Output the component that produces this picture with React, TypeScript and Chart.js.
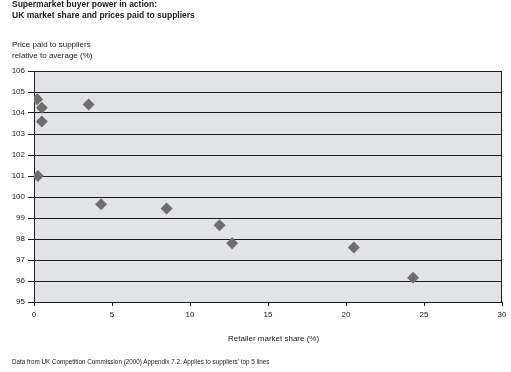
import React, { useEffect, useRef } from "react";
import { Chart, registerables } from "chart.js";

Chart.register(...registerables);

const marketShare = [0.2, 0.5, 0.5, 0.25, 3.5, 4.3, 8.5, 11.9, 12.7, 20.5, 24.3];
const pricePaid = [104.65, 104.25, 103.6, 101.0, 104.4, 99.65, 99.45, 98.65, 97.8, 97.6, 96.15];
const xTicks = [0, 5, 10, 15, 20, 25, 30];
const yTicks = [95, 96, 97, 98, 99, 100, 101, 102, 103, 104, 105, 106];

const FONT = "'Liberation Sans', Arial, sans-serif";

const bgPlugin = {
  id: "plotBg",
  beforeDraw(chart: any) {
    const { ctx, chartArea } = chart;
    ctx.save();
    ctx.fillStyle = "#e2e3e7";
    ctx.fillRect(chartArea.left, chartArea.top, chartArea.right - chartArea.left, chartArea.bottom - chartArea.top);
    ctx.restore();
  },
  beforeDatasetsDraw(chart: any) {
    const { ctx, chartArea } = chart;
    ctx.save();
    ctx.strokeStyle = "#1a1a1a";
    ctx.lineWidth = 1;
    ctx.strokeRect(chartArea.left + 0.5, chartArea.top + 0.5, chartArea.right - chartArea.left - 1, chartArea.bottom - chartArea.top);
    ctx.restore();
  },
};

export default function App() {
  const ref = useRef<HTMLCanvasElement>(null);
  useEffect(() => {
    document.body.style.margin = "0";
    const chart = new Chart(ref.current!, {
      type: "scatter",
      data: {
        datasets: [
          {
            data: marketShare.map((x, i) => ({ x, y: pricePaid[i] })),
            pointStyle: "rectRot",
            radius: 6,
            backgroundColor: "#6e6e6e",
            borderColor: "#6e6e6e",
            borderWidth: 0,
          },
        ],
      },
      options: {
        animation: false,
        responsive: false,
        maintainAspectRatio: false,
        layout: { padding: { left: 0, top: 71, right: 9, bottom: 50 } },
        plugins: { legend: { display: false }, tooltip: { enabled: false } },
        scales: {
          x: {
            type: "linear",
            min: 0,
            max: 30,
            afterBuildTicks: (s: any) => {
              s.ticks = xTicks.map((v) => ({ value: v }));
            },
            afterFit: (s: any) => {
              s.height = 20;
            },
            border: { display: true, color: "#1a1a1a" },
            grid: { drawOnChartArea: false, drawTicks: true, tickLength: 4, color: "#1a1a1a" },
            ticks: { font: { family: FONT, size: 8 }, color: "#222", padding: 4, maxRotation: 0 },
          },
          y: {
            type: "linear",
            min: 95,
            max: 106,
            afterBuildTicks: (s: any) => {
              s.ticks = yTicks.map((v) => ({ value: v }));
            },
            afterFit: (s: any) => {
              s.width = 34;
            },
            border: { display: true, color: "#1a1a1a" },
            grid: { drawOnChartArea: true, drawTicks: true, tickLength: 6, color: "#1a1a1a", lineWidth: 1 },
            ticks: { font: { family: FONT, size: 8 }, color: "#222", padding: 3 },
          },
        },
      },
      plugins: [bgPlugin],
    });
    return () => chart.destroy();
  }, []);

  const txt: React.CSSProperties = { position: "absolute", fontFamily: FONT, color: "#222", whiteSpace: "nowrap" };
  return (
    <div style={{ position: "relative", width: 511, height: 372, background: "#fff", overflow: "hidden" }}>
      <canvas ref={ref} width={511} height={372} style={{ position: "absolute", left: 0, top: 0 }} />
      <div style={{ ...txt, left: 12, top: -1, fontSize: 8.5, fontWeight: "bold", lineHeight: "11px" }}>
        Supermarket buyer power in action:
        <br />
        UK market share and prices paid to suppliers
      </div>
      <div style={{ ...txt, left: 12, top: 39, fontSize: 8, lineHeight: "11px" }}>
        Price paid to suppliers
        <br />
        relative to average (%)
      </div>
      <div style={{ ...txt, left: 228, top: 334, fontSize: 8 }}>Retailer market share (%)</div>
      <div style={{ ...txt, left: 12, top: 358, fontSize: 6.3 }}>
        Data from UK Competition Commission (2000) Appendix 7.2. Applies to suppliers' top 5 lines
      </div>
    </div>
  );
}
